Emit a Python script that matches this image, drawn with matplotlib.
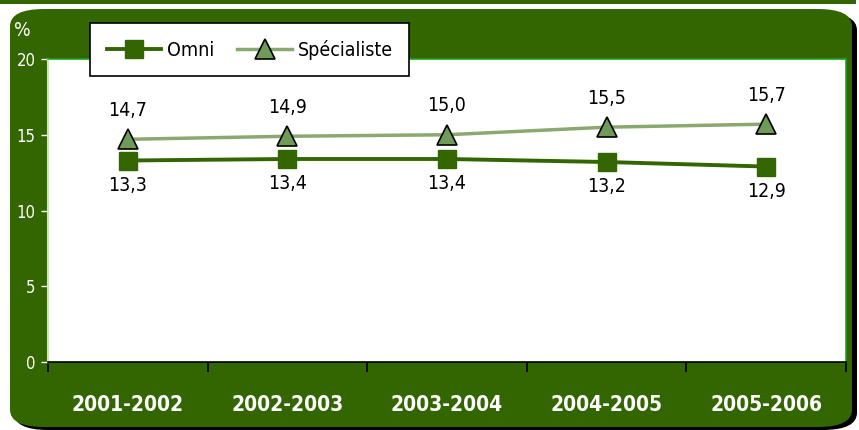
import matplotlib
matplotlib.use("Agg")
import matplotlib.pyplot as plt
from matplotlib.patches import FancyBboxPatch, Rectangle
from matplotlib import font_manager

categories = ["2001-2002", "2002-2003", "2003-2004", "2004-2005", "2005-2006"]
omni = [13.3, 13.4, 13.4, 13.2, 12.9]
specialiste = [14.7, 14.9, 15.0, 15.5, 15.7]
omni_labels = ["13,3", "13,4", "13,4", "13,2", "12,9"]
spec_labels = ["14,7", "14,9", "15,0", "15,5", "15,7"]
yticks = [0, 5, 10, 15, 20]

names = {f.name for f in font_manager.fontManager.ttflist}
FONT = "Liberation Sans Narrow" if "Liberation Sans Narrow" in names else "DejaVu Sans"
plt.rcParams['font.family'] = [FONT, "DejaVu Sans"]
plt.rcParams['font.stretch'] = 'condensed'

GREEN = "#336600"
LIGHT = "#8aa870"
TRI = "#6f9a58"

W, H = 859, 430
fig = plt.figure(figsize=(W/100, H/100), dpi=100)
fig.patch.set_facecolor("white")

def fx(x): return x / W
def fy(y): return 1 - y / H

# top stripe
fig.patches.append(Rectangle((0, fy(3.5)), fx(856), 3.5/H, transform=fig.transFigure,
                             facecolor=GREEN, edgecolor="none", zorder=0))
# shadow
fig.patches.append(FancyBboxPatch((fx(14), fy(430)), fx(857) - fx(14), fy(13) - fy(430),
                                  boxstyle="round,pad=0,rounding_size=0.04",
                                  transform=fig.transFigure, facecolor="black",
                                  edgecolor="none", zorder=0, mutation_aspect=H/W*2))
# green panel
fig.patches.append(FancyBboxPatch((fx(10), fy(427)), fx(852) - fx(10), fy(9) - fy(427),
                                  boxstyle="round,pad=0,rounding_size=0.04",
                                  transform=fig.transFigure, facecolor=GREEN,
                                  edgecolor="none", zorder=0, mutation_aspect=H/W*2))

ax = fig.add_axes([fx(48), fy(362), fx(846) - fx(48), fy(59) - fy(362)])
ax.set_zorder(2)
ax.set_facecolor("white")
x = list(range(len(categories)))
ax.plot(x, specialiste, color=LIGHT, lw=2.5, marker="^", ms=15,
        markerfacecolor=TRI, markeredgecolor="black", markeredgewidth=1.2,
        label="Spécialiste", zorder=3)
ax.plot(x, omni, color=GREEN, lw=2.8, marker="s", ms=13,
        markerfacecolor=GREEN, markeredgecolor=GREEN, label="Omni", zorder=4)

for xi, v, t in zip(x, specialiste, spec_labels):
    ax.annotate(t, (xi, v), xytext=(0, 14), textcoords="offset points",
                ha="center", va="bottom", fontsize=14, color="black")
for xi, v, t in zip(x, omni, omni_labels):
    ax.annotate(t, (xi, v), xytext=(0, -11), textcoords="offset points",
                ha="center", va="top", fontsize=14, color="black")

ax.set_xlim(-0.5, len(categories) - 0.5)
ax.set_ylim(0, 20)
ax.set_yticks(yticks)
ax.set_yticklabels([str(v) for v in yticks], color="white", fontsize=12)
ax.tick_params(axis="y", colors="white", length=5, width=1, pad=4, labelcolor="white")
ax.set_xticks([i - 0.5 for i in range(len(categories) + 1)])
ax.set_xticklabels([])
ax.set_xticks(x, minor=True)
ax.set_xticklabels(categories, minor=True, color="white", fontsize=15, fontweight="bold")
ax.tick_params(axis="x", which="major", direction="out", length=7, width=1.2, color="black")
ax.tick_params(axis="x", which="minor", length=0, pad=24)

for s in ["top", "right"]:
    ax.spines[s].set_color("#1fa01f")
    ax.spines[s].set_linewidth(1.2)
ax.spines["left"].set_color("#cfe3c0")
ax.spines["left"].set_linewidth(1.5)
ax.spines["bottom"].set_color("black")
ax.spines["bottom"].set_linewidth(1.2)

fig.text(fx(14), fy(31), "%", color="white", fontsize=14, va="center", ha="left")

# legend
h, l = ax.get_legend_handles_labels()
leg = fig.legend(h[::-1], l[::-1], loc="upper left", bbox_to_anchor=(fx(90), fy(23)),
                 ncol=2, frameon=True, fancybox=False, fontsize=14,
                 handlelength=2.8, columnspacing=1.2, borderpad=0.85,
                 handletextpad=0.3, borderaxespad=0)
leg.set_zorder(5)
leg.get_frame().set_edgecolor("black")
leg.get_frame().set_linewidth(1.2)
leg.get_frame().set_facecolor("white")
leg.get_frame().set_alpha(1)

fig.savefig("out.png", dpi=100, facecolor="white")
